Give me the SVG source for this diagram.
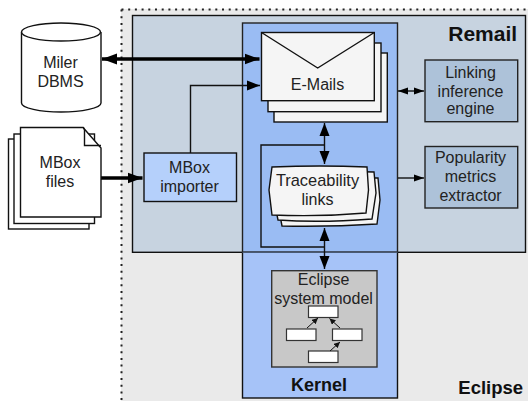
<svg xmlns="http://www.w3.org/2000/svg" width="528" height="401" viewBox="0 0 528 401">
<style>
text{font-family:"Liberation Sans",Arial,sans-serif;font-size:16px;fill:#222;text-anchor:middle}
.b{font-weight:bold;fill:#111}
.l{fill:none;stroke:#111;stroke-width:1.4}
.t{fill:none;stroke:#000;stroke-width:3.6}
.env{fill:#f5f5f5;stroke:#111;stroke-width:1.4}
.w{fill:#fff;stroke:#111;stroke-width:1.4}
.box{fill:#adc2d9;stroke:#222;stroke-width:1.4}
</style>
<defs>
<marker id="a" markerUnits="userSpaceOnUse" markerWidth="13" markerHeight="11" refX="13" refY="5.500" orient="auto-start-reverse" viewBox="0 0 13 11"><path d="M0 0.500L13 5.500L0 10.500z" fill="#000"/></marker>
<marker id="h" markerUnits="userSpaceOnUse" markerWidth="15" markerHeight="12" refX="15" refY="6" orient="auto-start-reverse" viewBox="0 0 15 12"><path d="M0 0.500L15 6L0 11.500z" fill="#000"/></marker>
<marker id="m" markerUnits="userSpaceOnUse" markerWidth="10" markerHeight="8" refX="10" refY="4" orient="auto-start-reverse" viewBox="0 0 10 8"><path d="M0 0.500L10 4L0 7.500z" fill="#000"/></marker>
<marker id="n" markerUnits="userSpaceOnUse" markerWidth="6" markerHeight="6" refX="6" refY="3" orient="auto" viewBox="0 0 6 6"><path d="M0 0L6 3L0 6z" fill="#111"/></marker>
</defs>
<g id="eclipse">
<rect x="121" y="9" width="407" height="392" fill="#eaeaea"/>
<path d="M121.500 9.500H528M121.500 9.500V401" fill="none" stroke="#222" stroke-width="2" stroke-dasharray="2 4.700"/>
<text class="b" x="490.700" y="393.500" style="font-size:18.500px">Eclipse</text>
</g>
<g id="kernel-lower">
<rect x="242.500" y="252" width="155" height="146" fill="#a6c3f8" stroke="#111" stroke-width="1.400"/>
</g>
<g id="remail">
<rect x="132.500" y="15.500" width="393" height="236.800" fill="#c7d3e0" stroke="#111" stroke-width="1.400"/>
<text class="b" x="482.700" y="41" style="font-size:21px">Remail</text>
</g>
<g id="kernel">
<rect x="242.500" y="23" width="155" height="229" fill="#9abcf3" stroke="#222" stroke-width="1.400"/>
<path d="M242.500 252.300H397.500" stroke="#556a8a" stroke-width="1"/>
<text class="b" x="319" y="391" style="font-size:18px">Kernel</text>
</g>
<g id="connectors">
<path class="t" d="M102 59H259.500" marker-start="url(#h)" marker-end="url(#h)"/>
<path class="l" d="M190.500 153V85.500H260" marker-end="url(#a)"/>
<path class="t" d="M101 178H142.500" marker-end="url(#h)"/>
<path class="l" d="M398 91H424" marker-start="url(#m)" marker-end="url(#m)"/>
<path class="l" d="M398 178H424" marker-end="url(#m)"/>
<path class="l" d="M324.500 123V164" marker-start="url(#a)" marker-end="url(#a)"/>
<path class="l" d="M324.500 145H261V247H324.500"/>
<path class="l" d="M324.500 228V269" marker-start="url(#a)" marker-end="url(#a)"/>
</g>
<g id="miler">
<path class="w" d="M21.500 32V103C21.500 108 40 112 61 112S101 108 101 103V32"/>
<ellipse class="w" cx="61" cy="32" rx="39.500" ry="9"/>
<text x="60.500" y="68">Miler</text>
<text x="60.500" y="87">DBMS</text>
</g>
<g id="mbox-files">
<rect class="w" x="8.500" y="139" width="80.500" height="90"/>
<rect class="w" x="14" y="134" width="80.500" height="89.500" stroke="#333"/>
<path class="w" d="M20.500 127.500H83L101 148V217H20.500z"/>
<path class="l" d="M83 127.500Q84 127.500 84.500 130V145.500H101"/>
<text x="60" y="167.700">MBox</text>
<text x="60" y="186.700">files</text>
</g>
<g id="mbox-importer">
<rect x="144" y="153" width="92.500" height="48.500" fill="#b5d0fb" stroke="#111" stroke-width="1.400"/>
<text x="189.500" y="172.700">MBox</text>
<text x="189.500" y="191.700">importer</text>
</g>
<g id="emails">
<rect class="env" x="274" y="53" width="113.300" height="69"/>
<rect class="env" x="268" y="43" width="113" height="68.700"/>
<rect class="env" x="261.500" y="32.500" width="112.800" height="68.200"/>
<path class="l" d="M261.500 32.500L317.700 68L374.300 32.500"/>
<text x="317.500" y="90">E-Mails</text>
</g>
<g id="traceability">
<path class="env" d="M282 178L378 178L380 200L377 224Q330 227 282 226L278 205z"/>
<path class="env" d="M277 170L374 172L376 193L372 219Q320 223 278 220L273 195z"/>
<path class="env" d="M272 167Q320 165 367 167L368.500 190L366 213Q320 217 272 215L269 190z"/>
<text x="317.500" y="186" style="font-size:16.400px">Traceability</text>
<text x="317.500" y="205">links</text>
</g>
<g id="system-model">
<rect x="271.700" y="270.700" width="105.300" height="96.300" fill="#c8c8c8" stroke="#333" stroke-width="1.400"/>
<text x="323.500" y="285">Eclipse</text>
<text x="323.500" y="304">system model</text>
<g id="model-boxes" fill="#fff" stroke="#333" stroke-width="1.200">
<rect x="308.500" y="306" width="29.500" height="11.500"/>
<rect x="286.500" y="329" width="29.500" height="11.500"/>
<rect x="332.500" y="329" width="29.500" height="11.500"/>
<rect x="308.500" y="351" width="29.500" height="11.500"/>
</g>
<g fill="none" stroke="#111" stroke-width="1">
<path d="M307 328L318 318" marker-end="url(#n)"/>
<path d="M340 328L329.500 318.500" marker-end="url(#n)"/>
<path d="M330 351L340 342" marker-end="url(#n)"/>
</g>
</g>
<g id="linking">
<rect class="box" x="425" y="60" width="92.700" height="61.700"/>
<text x="470.500" y="78">Linking</text>
<text x="470.500" y="96.500">inference</text>
<text x="470.500" y="114">engine</text>
</g>
<g id="popularity">
<rect class="box" x="425" y="146.500" width="92.700" height="61.500"/>
<text x="470.500" y="163">Popularity</text>
<text x="470.500" y="182">metrics</text>
<text x="470.500" y="201">extractor</text>
</g>
</svg>
